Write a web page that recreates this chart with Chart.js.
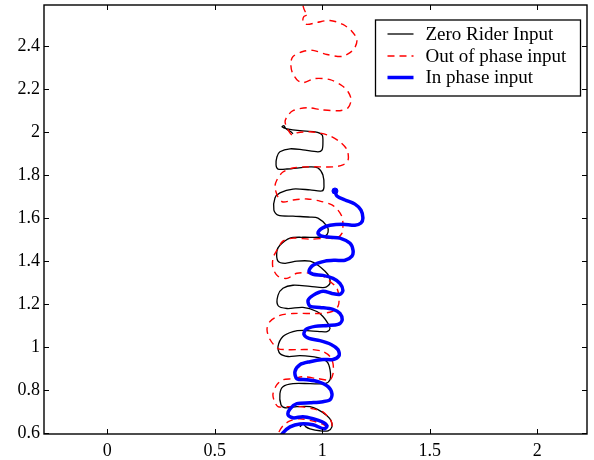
<!DOCTYPE html>
<html>
<head>
<meta charset="utf-8">
<script src="https://cdn.jsdelivr.net/npm/chart.js@4/dist/chart.umd.min.js"></script>
<style>
  html, body { margin: 0; padding: 0; background: #fff; }
  #wrap { width: 594px; height: 460px; }
</style>
</head>
<body>
<div id="wrap"><canvas id="c" width="594" height="460"></canvas></div>
<script>
// Axis ticks
const xTicks = [0, 0.5, 1, 1.5, 2];
const yTicks = [0.6, 0.8, 1, 1.2, 1.4, 1.6, 1.8, 2, 2.2, 2.4];

// Series names
const seriesNames = ['Zero Rider Input', 'Out of phase input', 'In phase input'];

// Zero rider input trajectory
const zeroX = [0.896,0.910,0.924,0.943,0.989,1.027,1.045,1.041,1.022,0.980,
  0.943,0.882,0.827,0.808,0.803,0.817,0.864,0.943,1.013,1.036,
  1.036,1.022,0.980,0.896,0.841,0.803,0.794,0.817,0.864,0.910,
  0.989,1.022,1.036,1.027,1.003,0.975,0.910,0.836,0.794,0.794,
  0.817,0.864,0.943,1.013,1.036,1.031,1.013,0.980,0.943,0.882,
  0.827,0.794,0.789,0.803,0.850,0.910,0.980,1.013,1.027,1.022,
  0.980,0.943,0.864,0.794,0.775,0.780,0.803,0.864,0.943,0.999,
  1.008,1.003,0.980,0.943,0.836,0.794,0.785,0.789,0.803,0.850,
  0.910,0.980,0.999,1.003,0.999,0.966,0.896,0.836,0.813,0.822,
  0.831,0.854,0.864];
const zeroY = [0.630,0.644,0.630,0.621,0.612,0.612,0.630,0.658,0.682,0.710,
  0.724,0.724,0.719,0.733,0.784,0.817,0.831,0.831,0.831,0.849,
  0.896,0.933,0.952,0.961,0.957,0.971,1.003,1.050,1.073,1.078,
  1.073,1.073,1.087,1.110,1.143,1.166,1.185,1.180,1.194,1.241,
  1.274,1.288,1.283,1.278,1.297,1.330,1.353,1.381,1.400,1.400,
  1.390,1.400,1.446,1.474,1.507,1.511,1.511,1.516,1.535,1.563,
  1.600,1.605,1.609,1.614,1.637,1.693,1.717,1.735,1.731,1.726,
  1.745,1.800,1.833,1.838,1.828,1.828,1.847,1.884,1.908,1.922,
  1.917,1.908,1.917,1.950,1.987,2.001,2.006,2.015,2.024,2.029,
  2.015,2.001,1.992];

// Out of phase input trajectory
const outX = [0.775,0.794,0.817,0.850,0.896,0.952,0.999,1.031,1.045,1.041,
  1.027,1.003,0.957,0.896,0.836,0.794,0.775,0.771,0.789,0.817,
  0.864,0.910,0.980,1.036,1.050,1.050,1.036,1.003,0.957,0.896,
  0.836,0.794,0.757,0.743,0.757,0.803,0.864,0.989,1.045,1.073,
  1.078,1.068,1.036,1.003,0.943,0.882,0.836,0.794,0.771,0.771,
  0.789,0.817,0.864,0.943,1.022,1.068,1.092,1.096,1.092,1.073,
  1.045,0.989,0.929,0.864,0.817,0.794,0.780,0.789,0.817,0.864,
  0.929,0.989,1.050,1.096,1.120,1.115,1.082,1.022,0.943,0.882,
  0.859,0.836,0.827,0.836,0.864,0.929,0.999,1.082,1.120,1.134,
  1.120,1.092,1.036,0.966,0.910,0.882,0.859,0.854,0.864,0.910,
  0.957,1.022,1.092,1.129,1.152,1.161,1.138,1.096,1.036,0.975,
  0.929,0.910,0.915,0.934,0.920,0.910,0.906];
const outY = [0.556,0.598,0.635,0.658,0.668,0.658,0.644,0.626,0.635,0.658,
  0.677,0.700,0.714,0.724,0.724,0.724,0.756,0.784,0.826,0.849,
  0.854,0.863,0.854,0.849,0.877,0.924,0.957,0.980,0.989,0.989,
  0.989,0.994,1.036,1.083,1.120,1.148,1.157,1.157,1.166,1.190,
  1.227,1.274,1.306,1.330,1.344,1.344,1.320,1.330,1.367,1.414,
  1.451,1.493,1.507,1.502,1.507,1.507,1.530,1.567,1.605,1.637,
  1.661,1.679,1.689,1.684,1.675,1.698,1.745,1.777,1.814,1.833,
  1.838,1.838,1.838,1.847,1.870,1.917,1.954,1.987,2.001,1.996,
  1.987,2.020,2.048,2.071,2.099,2.113,2.103,2.099,2.113,2.150,
  2.187,2.215,2.243,2.248,2.229,2.243,2.281,2.323,2.351,2.374,
  2.379,2.360,2.351,2.369,2.393,2.430,2.467,2.500,2.518,2.509,
  2.500,2.514,2.537,2.546,2.560,2.588,2.626];

// In phase input trajectory (starts at the marked point)
const inX = [1.059,1.068,1.106,1.152,1.180,1.189,1.180,1.152,1.096,1.036,
  0.999,0.980,0.999,1.036,1.082,1.129,1.143,1.138,1.106,1.059,
  1.013,0.957,0.938,0.957,1.003,1.050,1.082,1.096,1.082,1.045,
  1.003,0.957,0.934,0.943,0.989,1.050,1.082,1.092,1.073,1.027,
  0.966,0.924,0.915,0.938,0.989,1.041,1.073,1.078,1.050,1.003,
  0.943,0.896,0.873,0.882,0.929,0.980,1.027,1.045,1.036,1.003,
  0.943,0.882,0.850,0.841,0.864,0.910,0.957,0.999,1.022,1.008,
  0.957,0.896,0.850,0.817,0.799];
const inY = [1.726,1.703,1.684,1.665,1.637,1.600,1.577,1.567,1.572,1.567,
  1.553,1.530,1.516,1.511,1.507,1.483,1.451,1.423,1.404,1.404,
  1.400,1.381,1.353,1.339,1.334,1.320,1.297,1.264,1.246,1.250,
  1.260,1.241,1.218,1.190,1.185,1.176,1.157,1.124,1.106,1.101,
  1.097,1.083,1.059,1.041,1.031,1.013,0.989,0.961,0.943,0.943,
  0.933,0.919,0.887,0.854,0.849,0.840,0.817,0.784,0.756,0.747,
  0.742,0.738,0.714,0.686,0.672,0.677,0.668,0.654,0.635,0.621,
  0.640,0.644,0.630,0.602,0.574];

const zip = (xs, ys) => xs.map((v, i) => ({ x: v, y: ys[i] }));

const SERIF = "'Liberation Serif', 'Times New Roman', serif";

// Boxed axes with inward tick marks on all four sides
const framePlugin = {
  id: 'frame',
  afterDatasetsDraw(chart) {
    const { ctx, chartArea: a, scales: { x, y } } = chart;
    ctx.save();
    ctx.strokeStyle = '#000';
    ctx.lineWidth = 1.4;
    ctx.strokeRect(a.left, a.top, a.right - a.left, a.bottom - a.top);
    ctx.lineWidth = 1;
    ctx.beginPath();
    const L = 5;
    xTicks.forEach(v => {
      const p = Math.round(x.getPixelForValue(v)) + 0.5;
      ctx.moveTo(p, a.bottom); ctx.lineTo(p, a.bottom - L);
      ctx.moveTo(p, a.top); ctx.lineTo(p, a.top + L);
    });
    yTicks.forEach(v => {
      const p = Math.round(y.getPixelForValue(v)) + 0.5;
      ctx.moveTo(a.left, p); ctx.lineTo(a.left + L, p);
      ctx.moveTo(a.right, p); ctx.lineTo(a.right - L, p);
    });
    ctx.stroke();
    ctx.restore();
  }
};

// Boxed legend in the upper right of the plot area
const legendPlugin = {
  id: 'boxLegend',
  afterDraw(chart) {
    const { ctx, chartArea: a } = chart;
    const right = a.right - 6.5, top = a.top + 15;
    const w = 205, h = 76;
    const left = right - w;
    ctx.save();
    ctx.fillStyle = '#fff';
    ctx.fillRect(left, top, w, h);
    ctx.strokeStyle = '#000';
    ctx.lineWidth = 1.3;
    ctx.strokeRect(left, top, w, h);
    const rows = [top + 14, top + 36, top + 57.5];
    chart.data.datasets.forEach((ds, i) => {
      const yy = rows[i];
      ctx.beginPath();
      ctx.strokeStyle = ds.borderColor;
      ctx.lineWidth = ds.borderWidth;
      ctx.setLineDash(ds.borderDash || []);
      ctx.moveTo(left + 12, yy);
      ctx.lineTo(left + 38, yy);
      ctx.stroke();
      ctx.setLineDash([]);
      ctx.fillStyle = '#000';
      ctx.font = '19px ' + SERIF;
      ctx.textBaseline = 'middle';
      ctx.textAlign = 'left';
      ctx.fillText(ds.label, left + 50, yy + 1);
    });
    ctx.restore();
  }
};

new Chart(document.getElementById('c'), {
  type: 'scatter',
  data: {
    datasets: [
      {
        label: seriesNames[0],
        data: zip(zeroX, zeroY),
        showLine: true,
        borderColor: '#000000',
        borderWidth: 1.3,
        pointRadius: 0,
        tension: 0.3,
        order: 3
      },
      {
        label: seriesNames[1],
        data: zip(outX, outY),
        showLine: true,
        borderColor: '#ff0000',
        borderWidth: 1.4,
        borderDash: [7, 5],
        pointRadius: 0,
        tension: 0.3,
        order: 2
      },
      {
        label: seriesNames[2],
        data: zip(inX, inY),
        showLine: true,
        borderColor: '#0000ff',
        backgroundColor: '#0000ff',
        borderWidth: 3.5,
        pointRadius: ctx => ctx.dataIndex === 0 ? 3 : 0,
        pointBorderWidth: 1,
        tension: 0.3,
        order: 1
      }
    ]
  },
  options: {
    responsive: false,
    animation: false,
    devicePixelRatio: 1,
    events: [],
    layout: { padding: { top: 5, right: 7, left: 0, bottom: 0 } },
    plugins: {
      legend: { display: false },
      tooltip: { enabled: false }
    },
    scales: {
      x: {
        type: 'linear',
        min: -0.294,
        max: 2.231,
        afterBuildTicks: s => { s.ticks = xTicks.map(v => ({ value: v })); },
        afterFit: s => { s.height = 26; s.paddingLeft = 0; s.paddingRight = 0; },
        grid: { display: false, drawTicks: false },
        border: { display: false },
        ticks: {
          padding: 6,
          color: '#000',
          font: { family: SERIF, size: 18 },
          callback: v => String(v)
        }
      },
      y: {
        type: 'linear',
        min: 0.597,
        max: 2.59,
        afterBuildTicks: s => { s.ticks = yTicks.map(v => ({ value: v })); },
        afterFit: s => { s.width = 44; s.paddingTop = 0; s.paddingBottom = 0; },
        grid: { display: false, drawTicks: false },
        border: { display: false },
        ticks: {
          padding: 4,
          color: '#000',
          font: { family: SERIF, size: 18 },
          callback: v => String(Math.round(v * 10) / 10)
        }
      }
    }
  },
  plugins: [framePlugin, legendPlugin]
});
</script>
</body>
</html>
